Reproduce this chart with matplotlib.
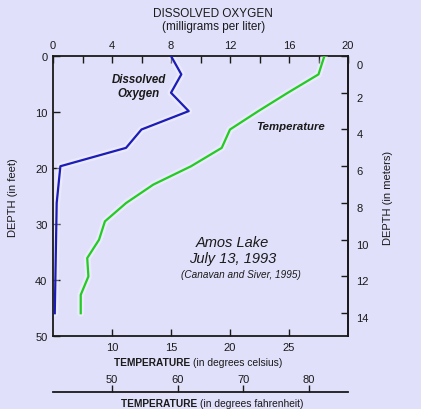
import matplotlib
matplotlib.use("Agg")
import matplotlib.pyplot as plt
import matplotlib.transforms as mtransforms
import numpy as np

plt.rcParams['font.family'] = ['Liberation Sans', 'DejaVu Sans']

# ---- data ----
do_depth_m = [0, 1, 2, 3, 4, 5, 6, 8, 14]
do_values = [8.0, 8.7, 8.0, 9.2, 6.0, 4.95, 0.5, 0.25, 0.12]

temp_depth_m = [0, 1, 2, 3, 4, 5, 6, 7, 8, 9, 10, 11, 12, 13, 14]
temp_values = [28.0, 27.5, 24.9, 22.4, 20.0, 19.3, 16.7, 13.5, 11.2, 9.4, 8.9, 7.9, 8.0, 7.35, 7.35]

do_ticks = [0, 4, 8, 12, 16, 20]
depth_ft_ticks = [0, 10, 20, 30, 40, 50]
depth_m_ticks = [0, 2, 4, 6, 8, 10, 12, 14]
celsius_ticks = [10, 15, 20, 25]
fahr_ticks = [50, 60, 70, 80]

FT_PER_M = 3.28084
W, H = 421, 410
BG = '#e0e0fb'
INK = '#1a1a1a'

fig = plt.figure(figsize=(W / 100, H / 100), dpi=100, facecolor=BG)

def fx(x):
    return x / W

def fy(y):
    return 1 - y / H

L, R, T, B = 53, 348, 57, 337
ax = fig.add_axes([fx(L), fy(B), (R - L) / W, (B - T) / H], facecolor=BG)
axt = ax.twiny()

for s in ax.spines.values():
    s.set_color(INK)
    s.set_linewidth(1.3)
for s in axt.spines.values():
    s.set_visible(False)

# Dissolved oxygen on top axis
ax.set_xlim(0, 20)
ax.set_ylim(50, 0)
ax.xaxis.set_ticks_position('top')
ax.xaxis.set_label_position('top')
ax.set_xticks(np.arange(0, 21, 2))
ax.set_xticklabels([str(v) if v in do_ticks else '' for v in np.arange(0, 21, 2)])
ax.set_yticks(depth_ft_ticks)
ax.tick_params(axis='x', which='both', direction='in', length=5, width=1, colors=INK,
               labelsize=8, pad=4, top=True, bottom=False, labeltop=True, labelbottom=False)
ax.tick_params(axis='y', direction='in', length=5, width=1, colors=INK, labelsize=8, pad=4,
               right=False)

do_ft = [d * FT_PER_M for d in do_depth_m]
ax.plot(do_values, do_ft, color='white', lw=5, alpha=0.35, solid_capstyle='round', zorder=2)
ax.plot(do_values, do_ft, color='#1c1cb8', lw=1.6, zorder=3)

# Temperature (celsius) on bottom axis
axt.set_xlim(5, 30)
axt.set_ylim(50, 0)
axt.xaxis.set_ticks_position('bottom')
axt.xaxis.set_label_position('bottom')
axt.set_xticks(celsius_ticks)
axt.tick_params(axis='x', direction='in', length=5, width=1, colors=INK, labelsize=8, pad=4,
                top=False, bottom=True, labeltop=False, labelbottom=True)

temp_ft = [d * FT_PER_M for d in temp_depth_m]
axt.plot(temp_values, temp_ft, color='white', lw=5, alpha=0.35, solid_capstyle='round', zorder=2)
axt.plot(temp_values, temp_ft, color='#22cc22', lw=1.6, zorder=3)

# Right axis: depth in meters
axm = ax.secondary_yaxis('right', functions=(lambda f: f / FT_PER_M, lambda m: m * FT_PER_M))
axm.set_yticks(depth_m_ticks)
axm.tick_params(direction='in', length=5, width=1, colors=INK, labelsize=8, pad=6)
axm.spines['right'].set_color(INK)
axm.spines['right'].set_linewidth(1.3)
for lab in axm.get_yticklabels():
    off = 8 if lab.get_text() == '0' else 4
    lab.set_transform(lab.get_transform() + mtransforms.ScaledTranslation(0, -off / 100, fig.dpi_scale_trans))

# Fahrenheit axis as separate line
axf = fig.add_axes([fx(L), fy(393), (R - L) / W, 5 / H], facecolor='none')
axf.set_xlim(5 * 9 / 5 + 32, 30 * 9 / 5 + 32)
axf.set_yticks([])
for k in ['top', 'left', 'right']:
    axf.spines[k].set_visible(False)
axf.spines['bottom'].set_color(INK)
axf.spines['bottom'].set_linewidth(1.3)
axf.set_xticks(fahr_ticks)
axf.tick_params(axis='x', direction='in', length=5, width=1, colors=INK, labelsize=8,
                bottom=True, top=False, labelbottom=False, labeltop=True, pad=2)

# Axis titles
fig.text(fx(213), fy(14), 'DISSOLVED OXYGEN', ha='center', va='center', fontsize=8.5, color=INK)
fig.text(fx(214), fy(27), '(milligrams per liter)', ha='center', va='center', fontsize=8.5, color=INK)

def two_part_title(x_left, y, rest):
    t1 = fig.text(fx(x_left), fy(y), 'TEMPERATURE ', ha='left', va='center',
                  fontsize=7.3, color=INK, fontweight='bold')
    fig.text(0, 0, rest, ha='left', va='center', fontsize=7.4, color=INK,
             transform=mtransforms.offset_copy(fig.transFigure, fig=fig, x=0, y=0))
    return t1

tc = fig.text(fx(114), fy(363), 'TEMPERATURE ', ha='left', va='center',
              fontsize=7.3, color=INK, fontweight='bold')
ax.annotate('(in degrees celsius)', xy=(1, 0.5), xycoords=tc, ha='left', va='center',
            fontsize=7.4, color=INK, annotation_clip=False)
tf = fig.text(fx(121), fy(404), 'TEMPERATURE ', ha='left', va='center',
              fontsize=7.3, color=INK, fontweight='bold')
ax.annotate('(in degrees fahrenheit)', xy=(1, 0.5), xycoords=tf, ha='left', va='center',
            fontsize=7.4, color=INK, annotation_clip=False)

fig.text(fx(13), fy(198), 'DEPTH (in feet)', ha='center', va='center', rotation=90,
         fontsize=8, color=INK)
fig.text(fx(388), fy(198), 'DEPTH (in meters)', ha='center', va='center', rotation=90,
         fontsize=8, color=INK)

# Annotations
fig.text(fx(139), fy(80), 'Dissolved', ha='center', va='center', fontsize=8.3,
         fontweight='bold', style='italic', color=INK)
fig.text(fx(139), fy(94), 'Oxygen', ha='center', va='center', fontsize=8.3,
         fontweight='bold', style='italic', color=INK)
fig.text(fx(291), fy(127), 'Temperature', ha='center', va='center', fontsize=8.2,
         fontweight='bold', style='italic', color=INK)
fig.text(fx(232), fy(243), 'Amos Lake', ha='center', va='center', fontsize=10.5,
         style='italic', color=INK)
fig.text(fx(233), fy(259), 'July 13, 1993', ha='center', va='center', fontsize=10.5,
         style='italic', color=INK)
fig.text(fx(241), fy(275), '(Canavan and Siver, 1995)', ha='center', va='center', fontsize=7.2,
         style='italic', color=INK)

fig.savefig('out.png', dpi=100, facecolor=BG)
